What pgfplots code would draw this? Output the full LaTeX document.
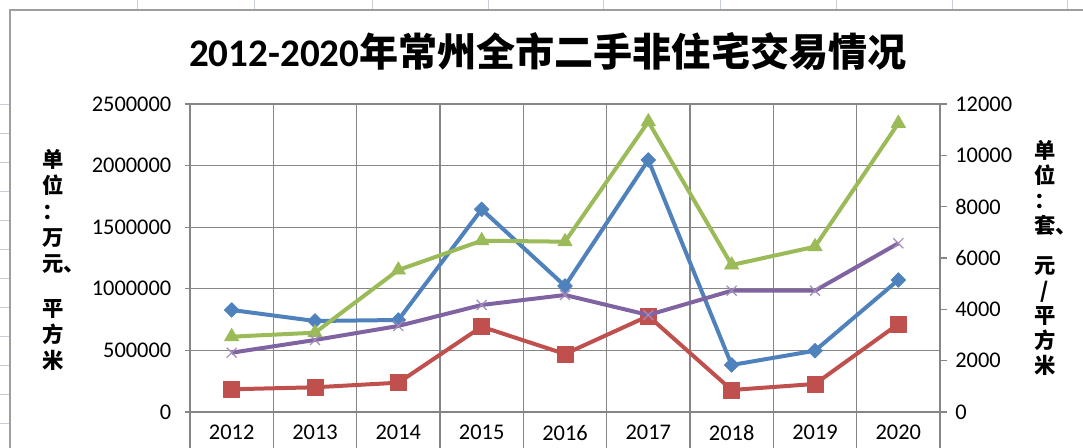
\documentclass[border=0pt]{standalone}
\usepackage{fontspec}
\setmainfont{Carlito}
\newfontfamily\cjk{Noto Sans CJK SC}
\usepackage{pgfplots}
\pgfplotsset{compat=1.18}
\definecolor{sblue}{HTML}{4F81BD}
\definecolor{sred}{HTML}{C0504D}
\definecolor{sgreen}{HTML}{9BBB59}
\definecolor{spurple}{HTML}{8064A2}
\definecolor{gridgray}{HTML}{868686}
\definecolor{sheetgray}{HTML}{C8CED8}
\begin{document}
\begin{tikzpicture}
\useasboundingbox (-142.5pt,-27pt) rectangle (669.75pt,309pt);
\clip (-142.5pt,-27pt) rectangle (669.75pt,309pt);
% spreadsheet background stubs and chart frame
\foreach \yy in {105,134,163,192,221,250,279,308,337,366,395,424}
  \draw[sheetgray, line width=0.75pt] (-142.5pt,{(412-\yy)*0.75pt}) -- ++(7.5pt,0pt);
\foreach \xx in {138,255,372,488,603,720,836,952,1067}
  \draw[sheetgray, line width=0.75pt] ({(\xx-190)*0.75pt},309pt) -- ++(0pt,-7.5pt);
\draw[gridgray!80, line width=1pt] (-135pt,-30pt) -- (-135pt,301.5pt) -- (680pt,301.5pt);

\begin{axis}[
  scale only axis, width=562.5pt, height=231pt,
  clip=false,
  xmin=-0.5, xmax=8.5, ymin=0, ymax=2500000,
  axis lines*=left,
  axis line style={gridgray, line width=1pt},
  xtick={0,1,2,3,4,5,6,7,8},
  xticklabels={2012,2013,2014,2015,2016,2017,2018,2019,2020},
  x tick style={draw=none},
  extra x ticks={-0.5,0.5,1.5,2.5,3.5,4.5,5.5,6.5,7.5,8.5},
  extra x tick labels={},
  extra x tick style={major tick length=32pt, grid=major,
     x tick style={draw=gridgray, line width=1pt}},
  ymajorgrids,
  major grid style={gridgray, line width=1pt},
  tick align=outside,
  major tick length=4pt,
  y tick style={gridgray, line width=1pt},
  ytick={0,500000,1000000,1500000,2000000,2500000},
  scaled y ticks=false,
  yticklabel style={xshift=-6.5pt, /pgf/number format/.cd, fixed, 1000 sep={}, precision=0},
  /pgf/number format/assume math mode=true,
  tick label style={font=\fontsize{16.8}{20}\selectfont, text=black},
  xticklabel style={yshift=-2.5pt},
  line join=round,
]
\addplot[sblue, line width=3pt, mark=square*, mark size=3.9pt,
  mark options={rotate=45, solid, fill=sblue, draw=sblue, line width=0.5pt}]
  coordinates {(0,828000)(1,738600)(2,746700)(3,1645000)(4,1022700)(5,2045500)(6,381500)(7,497600)(8,1071400)};
\addplot[sred, line width=3pt, mark=square*, mark size=6pt,
  mark options={solid, fill=sred, draw=sred, line width=0.5pt}]
  coordinates {(0,184300)(1,200500)(2,237800)(3,692400)(4,470800)(5,779200)(6,178600)(7,227300)(8,714300)};
\node[font=\fontsize{29.3}{34}\selectfont\bfseries] at (axis description cs:0.477,1.169)
  {2012-2020{\cjk 年常州全市二手非住宅交易情况}};
\node[font=\cjk\bfseries\fontsize{16}{19.5}\selectfont, align=center] at (axis description cs:-0.183,0.494)
  {单\\位\\：\\万\\元\rlap{、}\\[14pt]平\\方\\米};
\node[font=\cjk\bfseries\fontsize{16}{18.75}\selectfont, align=center] at (axis description cs:1.14,0.5)
  {单\\位\\：\\套\rlap{、}\\[11pt]元\\/\\平\\方\\米};
\end{axis}

\begin{axis}[
  scale only axis, width=562.5pt, height=231pt,
  clip=false,
  xmin=-0.5, xmax=8.5, ymin=0, ymax=12000,
  axis y line*=right, axis x line=none,
  axis line style={gridgray, line width=1pt},
  tick align=outside,
  major tick length=5pt,
  y tick style={gridgray, line width=1pt},
  ytick={0,2000,4000,6000,8000,10000,12000},
  scaled y ticks=false,
  yticklabel style={xshift=3pt, /pgf/number format/.cd, fixed, 1000 sep={}, precision=0},
  /pgf/number format/assume math mode=true,
  tick label style={font=\fontsize{16.8}{20}\selectfont, text=black},
  line join=round,
]
\addplot[sgreen, line width=3pt, mark=triangle*, mark size=6.2pt,
  mark options={solid, fill=sgreen, draw=sgreen, line width=0.5pt}]
  coordinates {(0,2934)(1,3090)(2,5532)(3,6674)(4,6635)(5,11310)(6,5727)(7,6440)(8,11248)};
\addplot[spurple, line width=3pt, mark=x, mark size=5.3pt,
  mark options={solid, draw=spurple!75, line width=0.9pt}]
  coordinates {(0,2310)(1,2805)(2,3351)(3,4169)(4,4558)(5,3779)(6,4726)(7,4726)(8,6573)};
\end{axis}
\end{tikzpicture}
\end{document}
